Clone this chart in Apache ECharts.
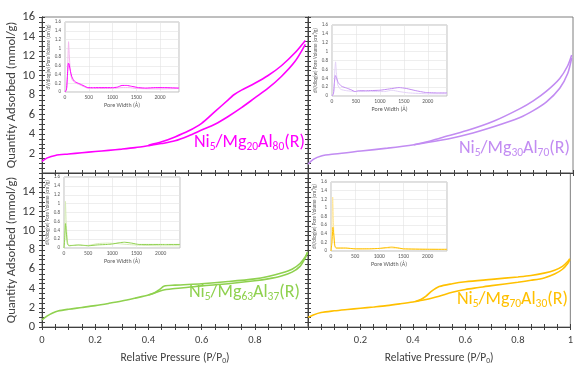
<!DOCTYPE html>
<html>
<head>
<meta charset="utf-8">
<script src="https://cdn.jsdelivr.net/npm/echarts@6/dist/echarts.min.js"></script>
<style>
  html, body { margin: 0; padding: 0; background: #fff; }
  #chart { width: 576px; height: 366px; }
</style>
</head>
<body>
<div id="chart"></div>
<script>
// Isotherm branches: [relative pressure P/P0, quantity adsorbed (mmol/g)]
const ads20 = [[0,1.2],[0.02,1.55],[0.05,1.8],[0.1,1.95],[0.15,2.08],[0.2,2.2],[0.25,2.32],[0.3,2.45],[0.35,2.6],[0.4,2.8],[0.45,3.02],[0.5,3.3],[0.55,3.8],[0.6,4.4],[0.65,5.0],[0.7,5.8],[0.75,6.7],[0.8,7.7],[0.85,8.7],[0.9,9.9],[0.95,11.4],[0.99,13.2]];
const des20 = [[0.99,13.6],[0.95,12.3],[0.9,11.0],[0.85,10.0],[0.8,9.2],[0.75,8.5],[0.72,8.0],[0.7,7.5],[0.65,6.3],[0.6,5.1],[0.55,4.3],[0.5,3.7],[0.45,3.2],[0.4,2.85]];

const ads30 = [[0,0.9],[0.02,1.4],[0.05,1.75],[0.1,1.95],[0.2,2.25],[0.3,2.55],[0.4,2.9],[0.5,3.35],[0.6,3.95],[0.7,4.75],[0.8,5.7],[0.85,6.4],[0.9,7.3],[0.95,8.7],[0.98,10.2],[0.995,11.8]];
const des30 = [[0.995,12.1],[0.98,11.0],[0.95,9.7],[0.9,8.4],[0.85,7.4],[0.8,6.6],[0.7,5.3],[0.6,4.35],[0.5,3.6],[0.45,3.2],[0.4,2.9]];

const ads63 = [[0,0.75],[0.02,1.15],[0.04,1.45],[0.06,1.66],[0.1,1.85],[0.15,2.03],[0.2,2.22],[0.25,2.45],[0.3,2.7],[0.35,3.0],[0.4,3.32],[0.45,3.8],[0.5,4.0],[0.55,4.13],[0.6,4.27],[0.7,4.5],[0.8,4.8],[0.85,5.0],[0.9,5.3],[0.94,5.7],[0.97,6.3],[0.99,7.2],[0.998,7.7]];
const des63 = [[0.998,7.8],[0.99,7.3],[0.97,6.6],[0.94,6.0],[0.9,5.6],[0.85,5.25],[0.8,5.0],[0.7,4.72],[0.6,4.5],[0.5,4.35],[0.46,4.25],[0.44,3.85],[0.42,3.5],[0.4,3.32]];

const ads70 = [[0,1.0],[0.02,1.25],[0.05,1.5],[0.1,1.68],[0.15,1.82],[0.2,1.95],[0.25,2.08],[0.3,2.22],[0.35,2.4],[0.4,2.6],[0.45,2.85],[0.5,3.2],[0.55,3.6],[0.6,3.9],[0.65,4.1],[0.7,4.3],[0.8,4.65],[0.85,4.85],[0.9,5.1],[0.94,5.5],[0.97,6.0],[0.99,6.6],[0.998,7.0]];
const des70 = [[0.998,7.1],[0.99,6.8],[0.97,6.3],[0.94,5.9],[0.9,5.6],[0.85,5.35],[0.8,5.2],[0.7,4.95],[0.6,4.7],[0.55,4.5],[0.5,4.2],[0.47,3.7],[0.45,3.2],[0.43,2.85],[0.41,2.65]];

// Pore size distributions: [pore width (Å), dV/dlog(w) (cm³/g)]
const psd20 = [[0,0],[30,0.05],[50,0.35],[70,0.66],[85,0.64],[110,0.5],[140,0.36],[180,0.27],[220,0.23],[300,0.19],[400,0.14],[480,0.1],[600,0.1],[800,0.1],[1000,0.1],[1100,0.11],[1200,0.15],[1300,0.15],[1400,0.13],[1550,0.1],[1700,0.09],[1900,0.1],[2100,0.1],[2400,0.09]];
const psd20b = [[0,0],[40,0.1],[60,0.7],[75,1.15],[90,0.85],[110,0.5],[140,0.3],[200,0.22],[300,0.17],[400,0.12],[500,0.08],[700,0.08],[1000,0.08],[1200,0.1],[1350,0.1],[1500,0.08],[2000,0.07],[2400,0.08]];

const psd30 = [[0,0],[30,0.05],[50,0.3],[70,0.46],[90,0.42],[130,0.3],[200,0.22],[300,0.18],[400,0.14],[480,0.1],[550,0.12],[700,0.12],[1000,0.13],[1200,0.16],[1400,0.19],[1550,0.17],[1750,0.12],[1950,0.08],[2200,0.07],[2400,0.07]];
const psd30b = [[0,0],[40,0.1],[60,0.6],[75,0.77],[90,0.55],[120,0.25],[180,0.15],[300,0.12],[500,0.1],[800,0.1],[1100,0.1],[1250,0.13],[1400,0.1],[1600,0.07],[2000,0.05],[2400,0.05]];

const psd63 = [[0,0],[15,0.2],[30,0.55],[45,0.4],[70,0.1],[100,0.05],[200,0.06],[300,0.07],[400,0.06],[500,0.05],[700,0.07],[900,0.08],[1000,0.09],[1150,0.12],[1250,0.13],[1400,0.11],[1550,0.08],[1800,0.08],[2100,0.08],[2400,0.08]];
const psd63b = [[0,0],[15,0.4],[30,1.05],[45,0.6],[70,0.15],[100,0.06],[300,0.06],[500,0.06],[700,0.1],[900,0.11],[1100,0.1],[1300,0.08],[1600,0.06],[2000,0.05],[2400,0.05]];

const psd70 = [[0,0],[20,0.2],[40,0.55],[60,0.35],[80,0.12],[110,0.07],[300,0.07],[500,0.05],[800,0.05],[1000,0.06],[1150,0.08],[1250,0.09],[1350,0.08],[1500,0.05],[2000,0.04],[2400,0.04]];
const psd70b = [[0,0],[20,0.5],[35,1.25],[50,0.7],[70,0.15],[100,0.06],[300,0.06],[600,0.05],[1000,0.06],[1250,0.07],[1500,0.05],[2000,0.04],[2400,0.03]];

// Sample names, drawn with subscripts
const sampleNames = [
  '{m|Ni}{s|5}{m|/Mg}{s|20}{m|Al}{s|80}{m|(R)}',
  '{m|Ni}{s|5}{m|/Mg}{s|30}{m|Al}{s|70}{m|(R)}',
  '{m|Ni}{s|5}{m|/Mg}{s|63}{m|Al}{s|37}{m|(R)}',
  '{m|Ni}{s|5}{m|/Mg}{s|70}{m|Al}{s|30}{m|(R)}'
];

const FONT = 'Carlito, Lato, sans-serif';
const AXIS = '#404040';
const TEXT = '#404040';

const panels = [
  { rect: {left: 42, top: 17, width: 266, height: 156}, ads: ads20, des: des20, psd: psd20, psdB: psd20b,
    color: '#ff00ff', light: '#f5b5ef', yLabels: true, hideMinY: true, xLabels: false,
    inset: {left: 65, top: 22, width: 114, height: 70}, name: sampleNames[0], nameAt: [194, 131] },
  { rect: {left: 308, top: 17, width: 265, height: 156}, ads: ads30, des: des30, psd: psd30, psdB: psd30b,
    color: '#c28cf2', light: '#e3d2f7', yLabels: false, xLabels: false,
    inset: {left: 332, top: 25, width: 115, height: 71}, name: sampleNames[1], nameAt: [459, 137] },
  { rect: {left: 42, top: 173, width: 266, height: 156}, ads: ads63, des: des63, psd: psd63, psdB: psd63b,
    color: '#8fd14f', light: '#d6ecb8', yLabels: true, hideMaxY: true, xLabels: true, hideMaxX: true,
    inset: {left: 64, top: 177, width: 116, height: 71}, name: sampleNames[2], nameAt: [189, 281] },
  { rect: {left: 308, top: 173, width: 265, height: 156}, ads: ads70, des: des70, psd: psd70, psdB: psd70b,
    color: '#ffc000', light: '#ffe699', yLabels: false, xLabels: true, hideMinX: true,
    inset: {left: 331, top: 182, width: 116, height: 69}, name: sampleNames[3], nameAt: [457, 288] }
];

const grid = [], xAxis = [], yAxis = [], series = [], title = [];

const tickLine = { color: AXIS, width: 1 };
const plain = v => String(v);

panels.forEach((p, i) => {
  // main isotherm panel
  const g = grid.length;
  grid.push(Object.assign({ show: true, borderColor: '#7f7f7f', borderWidth: 1, backgroundColor: 'transparent' }, p.rect));

  const xBase = {
    gridIndex: g, type: 'value', min: 0, max: 1, interval: 0.2, position: 'bottom',
    axisLine: { show: true, onZero: false, lineStyle: tickLine },
    splitLine: { show: false }
  };
  const xi = xAxis.length;
  xAxis.push(Object.assign({}, xBase, {
    axisTick: { show: true, length: 3, lineStyle: tickLine },
    minorTick: { show: true, splitNumber: 4, length: 3, lineStyle: tickLine },
    axisLabel: { show: p.xLabels, fontSize: 10.5, color: TEXT, fontFamily: FONT, margin: 8,
                 showMinLabel: !p.hideMinX, showMaxLabel: !p.hideMaxX, formatter: plain },
    name: p.xLabels ? 'Relative Pressure (P/P{s|0})' : '',
    nameLocation: 'middle', nameGap: 24,
    nameTextStyle: { fontSize: 11.5, color: TEXT, fontFamily: FONT, lineHeight: 14,
                     rich: { s: { fontSize: 7.5, color: TEXT, fontFamily: FONT, verticalAlign: 'bottom', lineHeight: 14 } } }
  }));
  xAxis.push(Object.assign({}, xBase, {
    axisTick: { show: true, inside: true, length: 3, lineStyle: tickLine },
    minorTick: { show: true, splitNumber: 4, length: 3, lineStyle: tickLine },
    axisLabel: { show: false }
  }));

  const yBase = {
    gridIndex: g, type: 'value', min: 0, max: 16, interval: 2, position: 'left',
    axisLine: { show: true, onZero: false, lineStyle: tickLine },
    splitLine: { show: false }
  };
  const yi = yAxis.length;
  yAxis.push(Object.assign({}, yBase, {
    axisTick: { show: true, length: 3, lineStyle: tickLine },
    minorTick: { show: true, splitNumber: 4, length: 3, lineStyle: tickLine },
    axisLabel: { show: p.yLabels, fontSize: 12.5, color: TEXT, fontFamily: FONT, margin: 7,
                 showMinLabel: !p.hideMinY, showMaxLabel: !p.hideMaxY, formatter: plain },
    name: p.yLabels ? 'Quantity Adsorbed (mmol/g)' : '',
    nameLocation: 'middle', nameGap: 21,
    nameTextStyle: { fontSize: 12.5, color: TEXT, fontFamily: FONT }
  }));
  yAxis.push(Object.assign({}, yBase, {
    axisTick: { show: true, inside: true, length: 3, lineStyle: tickLine },
    minorTick: { show: true, splitNumber: 4, length: 3, lineStyle: tickLine },
    axisLabel: { show: false }
  }));

  [p.ads, p.des].forEach(d => series.push({
    type: 'line', xAxisIndex: xi, yAxisIndex: yi, data: d,
    showSymbol: false, smooth: 0.3, silent: true,
    lineStyle: { color: p.color, width: 1.6 }, z: 3
  }));

  // pore-size distribution inset
  const gi = grid.length;
  grid.push(Object.assign({ show: true, borderColor: '#bfbfbf', borderWidth: 1, backgroundColor: '#fff', z: 4 }, p.inset));
  const ixi = xAxis.length;
  xAxis.push({
    gridIndex: gi, type: 'value', min: 0, max: 2400, interval: 500, position: 'bottom', z: 4,
    axisLine: { show: false }, axisTick: { show: false },
    splitLine: { show: true, lineStyle: { color: '#e3e3e3', width: 0.6 } },
    axisLabel: { fontSize: 5.5, color: '#595959', fontFamily: FONT, margin: 3, showMaxLabel: false, formatter: plain },
    name: 'Pore Width (Å)', nameLocation: 'middle', nameGap: 10,
    nameTextStyle: { fontSize: 6, color: '#595959', fontFamily: FONT }
  });
  const iyi = yAxis.length;
  yAxis.push({
    gridIndex: gi, type: 'value', min: 0, max: 1.6, interval: 0.2, position: 'left', z: 4,
    axisLine: { show: false }, axisTick: { show: false },
    splitLine: { show: true, lineStyle: { color: '#e3e3e3', width: 0.6 } },
    axisLabel: { fontSize: 5, color: '#595959', fontFamily: FONT, margin: 4,
                 formatter: v => String(Math.round(v * 10) / 10) },
    name: 'dV/dlog(w) Pore Volume (cm³/g)', nameLocation: 'middle', nameGap: 12,
    nameTextStyle: { fontSize: 5, color: '#595959', fontFamily: FONT }
  });
  series.push({
    type: 'line', xAxisIndex: ixi, yAxisIndex: iyi, data: p.psdB,
    showSymbol: false, smooth: 0.15, silent: true, z: 5,
    lineStyle: { color: p.light, width: 1 }
  });
  series.push({
    type: 'line', xAxisIndex: ixi, yAxisIndex: iyi, data: p.psd,
    showSymbol: false, smooth: 0.15, silent: true, z: 6,
    lineStyle: { color: p.color, width: 1 }
  });

  // sample name
  title.push({
    text: p.name, left: p.nameAt[0], top: p.nameAt[1], padding: 0,
    textStyle: {
      fontWeight: 'normal',
      rich: {
        m: { fontSize: 18, fontWeight: 'normal', color: p.color, fontFamily: FONT, lineHeight: 22, verticalAlign: 'middle' },
        s: { fontSize: 11.5, fontWeight: 'normal', color: p.color, fontFamily: FONT, lineHeight: 22, verticalAlign: 'bottom' }
      }
    }
  });
});

const chart = echarts.init(document.getElementById('chart'), null, { renderer: 'canvas' });
chart.setOption({
  animation: false,
  backgroundColor: '#fff',
  title, grid, xAxis, yAxis, series
});
</script>
</body>
</html>
